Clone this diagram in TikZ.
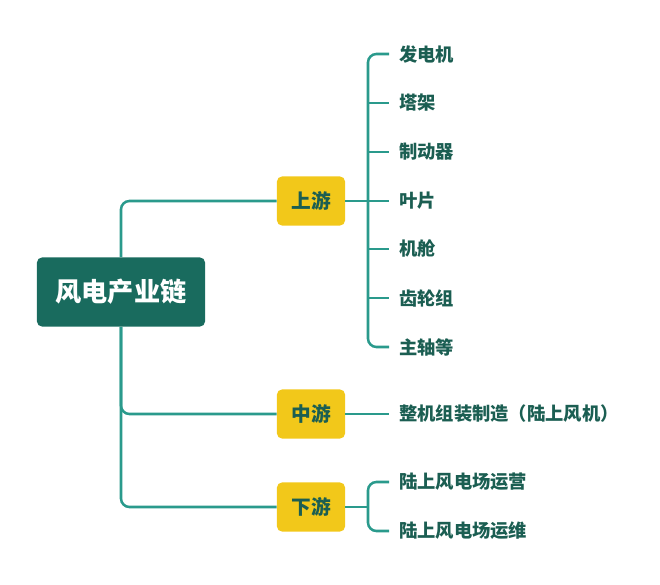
\documentclass[tikz,border=0pt]{standalone}
\usepackage{fontspec}
\newfontfamily\cjk{Noto Sans CJK SC}
\usetikzlibrary{positioning}
\definecolor{rootteal}{HTML}{196B5E}
\definecolor{linkteal}{HTML}{2A9A8C}
\definecolor{leafteal}{HTML}{1B5E52}
\definecolor{stagegold}{HTML}{F2C81A}

\begin{document}
\begin{tikzpicture}[x=0.025cm, y=-0.025cm,
  rootbox/.style={fill=rootteal, text=white, rounded corners=3.5pt, minimum width=4.2cm, minimum height=1.725cm, font=\cjk\bfseries\fontsize{18.6}{20}\selectfont},
  stagebox/.style={fill=stagegold, text=leafteal, rounded corners=3.5pt, minimum width=1.7cm, minimum height=1.225cm, font=\cjk\bfseries\fontsize{14}{16}\selectfont},
  leaf/.style={anchor=west, text=leafteal, inner xsep=0.25cm, inner ysep=0pt, font=\cjk\bfseries\fontsize{13}{15}\selectfont},
  link/.style={draw=linkteal, line width=1.8pt, rounded corners=6pt}]

 \useasboundingbox (0,0) rectangle (660,585);

 %root and stages
 \node[rootbox] (root) at (121,292) {风电产业链};
 \node[stagebox] (up) at (311,201) {上游};
 \node[stagebox] (mid) at (311,414) {中游};
 \node[stagebox] (down) at (311,507) {下游};

 \draw[link] (root.north) |- (up.west);
 \draw[link] (root.south) |- (mid.west);
 \draw[link] (root.south) |- (down.west);

 %upstream
 \def\dx{389}
 \foreach \i/\y/\name in {1/54/发电机, 2/103/塔架, 3/152/制动器, 4/201/叶片, 5/249/机舱, 6/298/齿轮组, 7/347/主轴等} {
   \node[leaf] (u\i) at (\dx,\y) {\name};
 }
 \coordinate (ub) at (368,201);
 \draw[link] (up.east) -- (u4.west);
 \draw[link] (u1.west) -| (ub) |- (u7.west);
 \foreach \i in {2,3,5,6} {
   \draw[link] (u\i.west -| ub) -- (u\i.west);
 }

 %midstream
 \node[leaf] (m1) at (\dx,414) {整机组装制造（陆上风机）};
 \draw[link] (mid.east) -- (m1.west);

 %downstream
 \foreach \i/\y/\name in {1/482/陆上风电场运营, 2/531/陆上风电场运维} {
   \node[leaf] (d\i) at (\dx,\y) {\name};
 }
 \coordinate (db) at (368,507);
 \draw[link] (down.east) -- (db);
 \draw[link] (d1.west) -| (db) |- (d2.west);

\end{tikzpicture}
\end{document}
